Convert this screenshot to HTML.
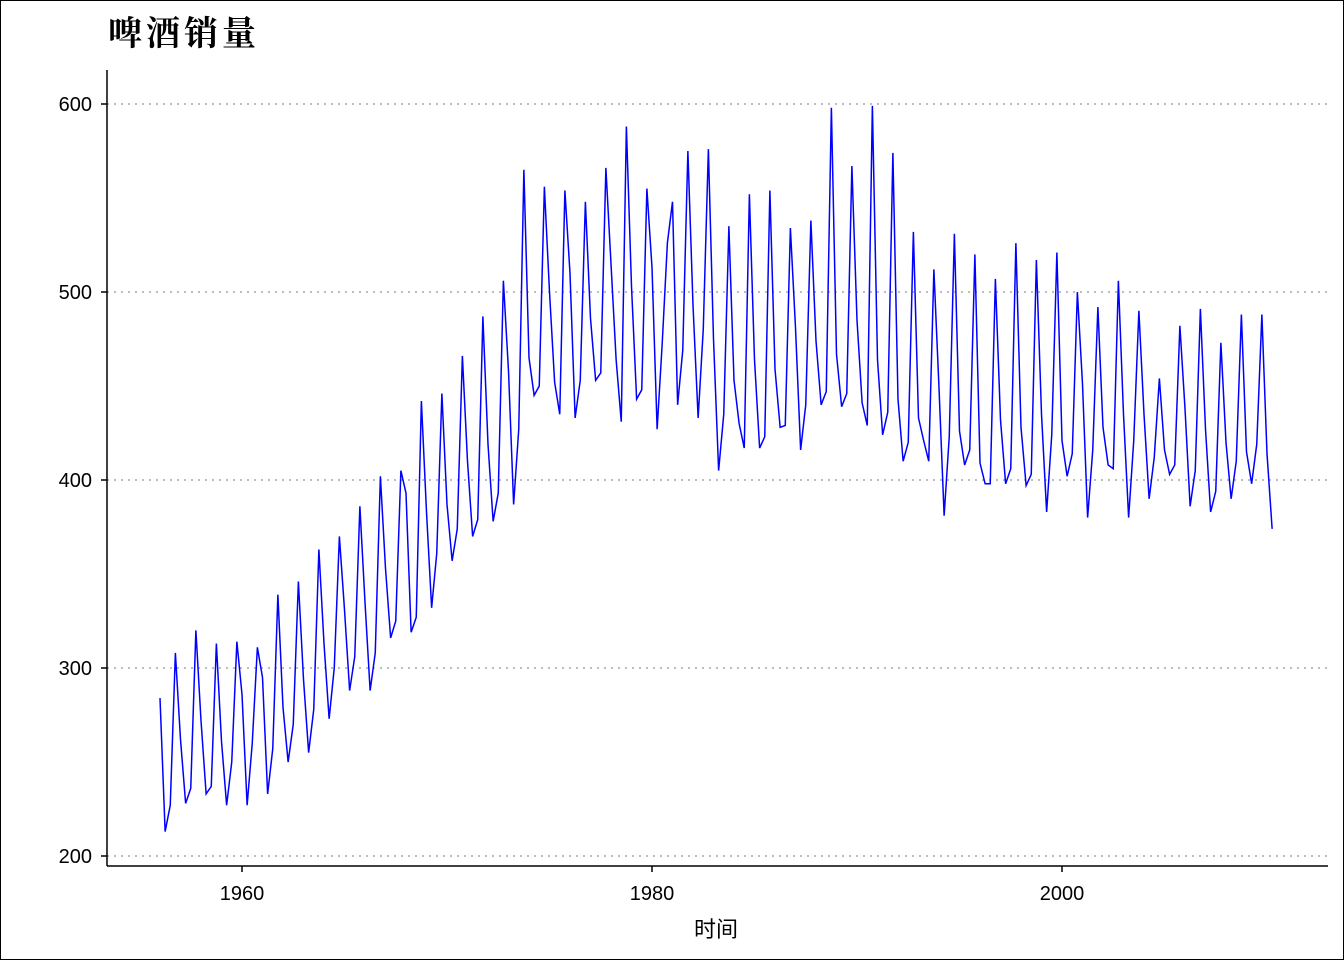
<!DOCTYPE html>
<html><head><meta charset="utf-8"><style>
html,body{margin:0;padding:0;background:#fff;}
svg{display:block;}
text{font-family:"Liberation Sans","Noto Sans CJK SC",sans-serif;}
</style></head><body>
<svg id="chart" width="1344" height="960" xmlns="http://www.w3.org/2000/svg">
<rect x="0.5" y="0.5" width="1343" height="959" fill="#fff" stroke="#000" stroke-width="1"/>
<text x="108" y="45" font-size="34" font-weight="bold" letter-spacing="4" style="font-family:'Liberation Serif','Noto Serif CJK SC',serif">啤酒销量</text>
<g id="grid"></g>
<g id="axes"></g>
<path id="series" fill="none" stroke="#0000ff" stroke-width="1.5"/>
<text x="716" y="937" font-size="22" text-anchor="middle">时间</text>
</svg>
<script>
const startYear = 1956;
const frequency = 4;
const values = [
284,213,227,308,262,228,236,320,272,233,237,313,261,227,250,314,
286,227,260,311,295,233,257,339,279,250,270,346,294,255,278,363,
313,273,300,370,331,288,306,386,335,288,308,402,353,316,325,405,
393,319,327,442,383,332,361,446,387,357,374,466,410,370,379,487,
419,378,393,506,458,387,427,565,465,445,450,556,500,452,435,554,
510,433,453,548,486,453,457,566,515,464,431,588,503,443,448,555,
513,427,473,526,548,440,469,575,493,433,480,576,475,405,435,535,
453,430,417,552,464,417,423,554,459,428,429,534,481,416,440,538,
474,440,447,598,467,439,446,567,485,441,429,599,464,424,436,574,
443,410,420,532,433,421,410,512,449,381,423,531,426,408,416,520,
409,398,398,507,432,398,406,526,428,397,403,517,435,383,424,521,
421,402,414,500,451,380,416,492,428,408,406,506,435,380,421,490,
435,390,412,454,416,403,408,482,438,386,405,491,427,383,394,473,
420,390,410,488,415,398,419,488,414,374];
const yTicks = [200,300,400,500,600];
const xTicks = [1960,1980,2000];

const NS = "http://www.w3.org/2000/svg";
const xs = t => 242 + (t - 1960) * 20.5;
const ys = v => 856 - (v - 200) * 1.88;
const grid = document.getElementById('grid');
const axes = document.getElementById('axes');
function mk(tag, attrs, parent){const e=document.createElementNS(NS,tag);for(const k in attrs)e.setAttribute(k,attrs[k]);parent.appendChild(e);return e;}

yTicks.forEach(v=>{
  const l = mk('line',{x1:107,x2:1328,y1:ys(v),y2:ys(v),stroke:'#bdbdbd','stroke-width':2,'stroke-dasharray':'2,5'},grid);
  
  
  const tk = mk('line',{x1:101,x2:107,y1:ys(v),y2:ys(v),stroke:'#000','stroke-width':1.5},axes);
  
  
  const t = mk('text',{x:92,y:ys(v)+7,'font-size':20,'text-anchor':'end'},axes);
  t.textContent = v;
  
  
});
xTicks.forEach(v=>{
  const tk = mk('line',{x1:xs(v),x2:xs(v),y1:866,y2:872,stroke:'#000','stroke-width':1.5},axes);
  
  
  const t = mk('text',{x:xs(v),y:900,'font-size':20,'text-anchor':'middle'},axes);
  t.textContent = v;
  
  
});
const ya = mk('line',{x1:107,x2:107,y1:70,y2:866,stroke:'#000','stroke-width':1.5},axes);


const xa = mk('line',{x1:107,x2:1328,y1:866,y2:866,stroke:'#000','stroke-width':1.5},axes);



let d='';
values.forEach((v,i)=>{const t=startYear+i/frequency;d+=(i?'L':'M')+xs(t).toFixed(2)+','+ys(v).toFixed(2);});
document.getElementById('series').setAttribute('d',d);
</script>
</body></html>
